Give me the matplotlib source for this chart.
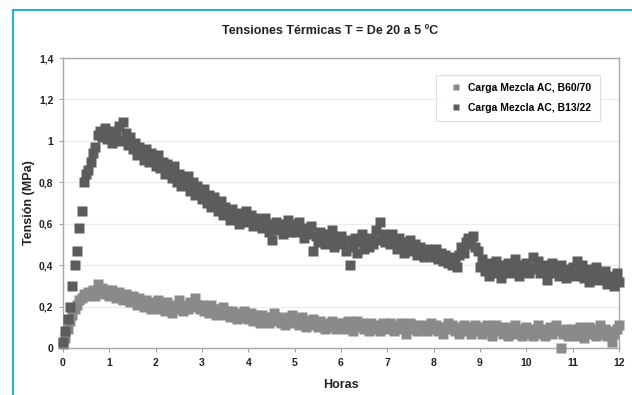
import numpy as np
import matplotlib.pyplot as plt
from matplotlib.lines import Line2D

plt.rcParams['font.family'] = ['Liberation Sans', 'DejaVu Sans']

# readings every 0.05 h, 0 to 12 h
hours = np.round(np.arange(241) * 0.05, 2)

tension_b1322 = [
    0.03, 0.08, 0.14, 0.20, 0.30, 0.40, 0.47, 0.58, 0.66, 0.80, 0.84, 0.86, 0.90, 0.94, 0.97, 1.03, 1.05, 1.02, 1.06, 1.01,
    1.04, 0.99, 1.05, 1.03, 1.07, 1.00, 1.09, 1.04, 0.98, 1.02, 0.96, 0.99, 0.93, 0.97, 0.95, 0.91, 0.96, 0.90, 0.94, 0.92,
    0.88, 0.93, 0.87, 0.90, 0.84, 0.89, 0.86, 0.82, 0.88, 0.80, 0.84, 0.78, 0.82, 0.79, 0.83, 0.76, 0.80, 0.74, 0.78, 0.75,
    0.72, 0.77, 0.70, 0.74, 0.68, 0.73, 0.69, 0.66, 0.71, 0.64, 0.68, 0.66, 0.62, 0.67, 0.63, 0.65, 0.60, 0.64, 0.62, 0.66,
    0.61, 0.64, 0.59, 0.63, 0.60, 0.62, 0.58, 0.63, 0.60, 0.56, 0.52, 0.59, 0.61, 0.57, 0.60, 0.55, 0.59, 0.62, 0.56, 0.58,
    0.60, 0.56, 0.61, 0.57, 0.53, 0.58, 0.55, 0.59, 0.47, 0.54, 0.51, 0.56, 0.53, 0.50, 0.55, 0.52, 0.57, 0.49, 0.53, 0.51,
    0.54, 0.50, 0.47, 0.52, 0.40, 0.49, 0.53, 0.46, 0.51, 0.55, 0.48, 0.52, 0.49, 0.53, 0.50, 0.57, 0.52, 0.61, 0.55, 0.51,
    0.54, 0.50, 0.55, 0.52, 0.48, 0.53, 0.50, 0.46, 0.51, 0.48, 0.52, 0.47, 0.50, 0.45, 0.49, 0.46, 0.44, 0.48, 0.45, 0.47,
    0.44, 0.48, 0.43, 0.46, 0.42, 0.45, 0.41, 0.44, 0.40, 0.43, 0.39, 0.45, 0.49, 0.46, 0.51, 0.53, 0.50, 0.54, 0.49, 0.47,
    0.39, 0.43, 0.37, 0.41, 0.35, 0.40, 0.36, 0.42, 0.38, 0.34, 0.40, 0.37, 0.41, 0.36, 0.39, 0.43, 0.38, 0.35, 0.40, 0.37,
    0.41, 0.36, 0.39, 0.44, 0.38, 0.42, 0.36, 0.40, 0.37, 0.33, 0.38, 0.41, 0.36, 0.39, 0.35, 0.40, 0.37, 0.34, 0.38, 0.36,
    0.39, 0.35, 0.42, 0.37, 0.40, 0.34, 0.38, 0.32, 0.37, 0.35, 0.39, 0.33, 0.36, 0.34, 0.37, 0.31, 0.35, 0.33, 0.30, 0.36,
    0.32,
]

tension_b6070 = [
    0.02, 0.05, 0.09, 0.13, 0.16, 0.19, 0.21, 0.23, 0.24, 0.26, 0.25, 0.27, 0.26, 0.28, 0.25, 0.31, 0.27, 0.29, 0.26, 0.28,
    0.25, 0.28, 0.26, 0.24, 0.27, 0.25, 0.23, 0.26, 0.24, 0.22, 0.25, 0.23, 0.21, 0.24, 0.22, 0.20, 0.23, 0.21, 0.19, 0.22,
    0.20, 0.23, 0.19, 0.21, 0.18, 0.22, 0.20, 0.17, 0.21, 0.19, 0.23, 0.20, 0.18, 0.21, 0.19, 0.22, 0.20, 0.24, 0.21, 0.19,
    0.21, 0.18, 0.20, 0.17, 0.21, 0.19, 0.16, 0.19, 0.17, 0.20, 0.16, 0.18, 0.15, 0.18, 0.16, 0.14, 0.17, 0.15, 0.18, 0.15,
    0.14, 0.17, 0.13, 0.16, 0.14, 0.12, 0.16, 0.13, 0.15, 0.12, 0.14, 0.17, 0.13, 0.15, 0.12, 0.14, 0.11, 0.15, 0.13, 0.16,
    0.12, 0.14, 0.11, 0.15, 0.13, 0.10, 0.13, 0.11, 0.14, 0.12, 0.10, 0.13, 0.11, 0.09, 0.12, 0.10, 0.13, 0.11, 0.09, 0.12,
    0.10, 0.12, 0.09, 0.13, 0.11, 0.08, 0.11, 0.13, 0.10, 0.12, 0.09, 0.11, 0.08, 0.12, 0.10, 0.09, 0.11, 0.08, 0.12, 0.10,
    0.09, 0.12, 0.10, 0.08, 0.11, 0.09, 0.12, 0.10, 0.07, 0.10, 0.12, 0.09, 0.11, 0.08, 0.10, 0.09, 0.11, 0.08, 0.10, 0.12,
    0.09, 0.11, 0.08, 0.10, 0.07, 0.10, 0.12, 0.09, 0.11, 0.08, 0.10, 0.07, 0.09, 0.11, 0.08, 0.10, 0.07, 0.09, 0.11, 0.08,
    0.10, 0.07, 0.09, 0.11, 0.08, 0.06, 0.09, 0.11, 0.08, 0.10, 0.07, 0.09, 0.06, 0.10, 0.08, 0.11, 0.07, 0.09, 0.06, 0.08,
    0.10, 0.07, 0.09, 0.06, 0.08, 0.11, 0.07, 0.09, 0.06, 0.08, 0.10, 0.07, 0.09, 0.11, 0.08, 0.00, 0.07, 0.09, 0.06, 0.08,
    0.07, 0.09, 0.06, 0.10, 0.08, 0.05, 0.08, 0.10, 0.07, 0.09, 0.06, 0.08, 0.11, 0.07, 0.09, 0.06, 0.08, 0.03, 0.07, 0.09,
    0.11,
]

labels = ['Carga Mezcla AC, B60/70', 'Carga Mezcla AC, B13/22']
colors = ['#8a8a8a', '#5c5c5c']
y_ticks = [0, 0.2, 0.4, 0.6, 0.8, 1, 1.2, 1.4]
y_ticklabels = ['0', '0,2', '0,4', '0,6', '0,8', '1', '1,2', '1,4']

fig = plt.figure(figsize=(6.32, 3.95), dpi=100)
ax = fig.add_axes([63 / 632, 1 - 348 / 395, (619 - 63) / 632, (348 - 58) / 395])

ax.plot(hours, tension_b6070, 's', ms=6.5, color=colors[0], mec='none', clip_on=False, zorder=3)
ax.plot(hours, tension_b1322, 's', ms=6.5, color=colors[1], mec='none', clip_on=False, zorder=3)

ax.set_xlim(0, 12)
ax.set_ylim(0, 1.4)
ax.set_xticks(range(13))
ax.set_yticks(y_ticks)
ax.set_yticklabels(y_ticklabels)
ax.tick_params(labelsize=7.5, length=3, color='#a0a0a0', pad=4, labelcolor='#222222')
for lab in ax.get_xticklabels() + ax.get_yticklabels():
    lab.set_fontweight('bold')
ax.grid(axis='y', color='#ececec', linewidth=0.8)
ax.set_axisbelow(True)
for side in ax.spines.values():
    side.set_color('#a8a8a8')
    side.set_linewidth(1)

ax.set_xlabel('Horas', fontsize=9, fontweight='bold', color='#222222', labelpad=8)
ax.set_ylabel('Tensión (MPa)', fontsize=9, fontweight='bold', color='#222222', labelpad=3)
fig.text(330 / 632, 1 - 31 / 395, 'Tensiones Térmicas T = De 20 a 5 ºC',
         ha='center', va='center', fontsize=9, fontweight='bold', color='#222222')

handles = [Line2D([], [], marker='s', ls='none', ms=4.5, color=c, mec='none') for c in colors]
leg = ax.legend(handles, labels, loc='upper right', bbox_to_anchor=(0.975, 0.96),
                prop={'size': 7.5, 'weight': 'bold'}, frameon=True, fancybox=False,
                handletextpad=0.1, handlelength=2.2, borderpad=0.8, labelspacing=0.9)
leg.get_frame().set_edgecolor('#d8d8d8')
leg.get_frame().set_linewidth(0.8)

# thin cyan page border on top and left
fig.add_artist(Line2D([13 / 632, 1], [1 - 10 / 395, 1 - 10 / 395], color='#29aee0', lw=1.5))
fig.add_artist(Line2D([13 / 632, 13 / 632], [0, 1 - 10 / 395], color='#29aee0', lw=1.5))

fig.savefig('out.png', dpi=100)
